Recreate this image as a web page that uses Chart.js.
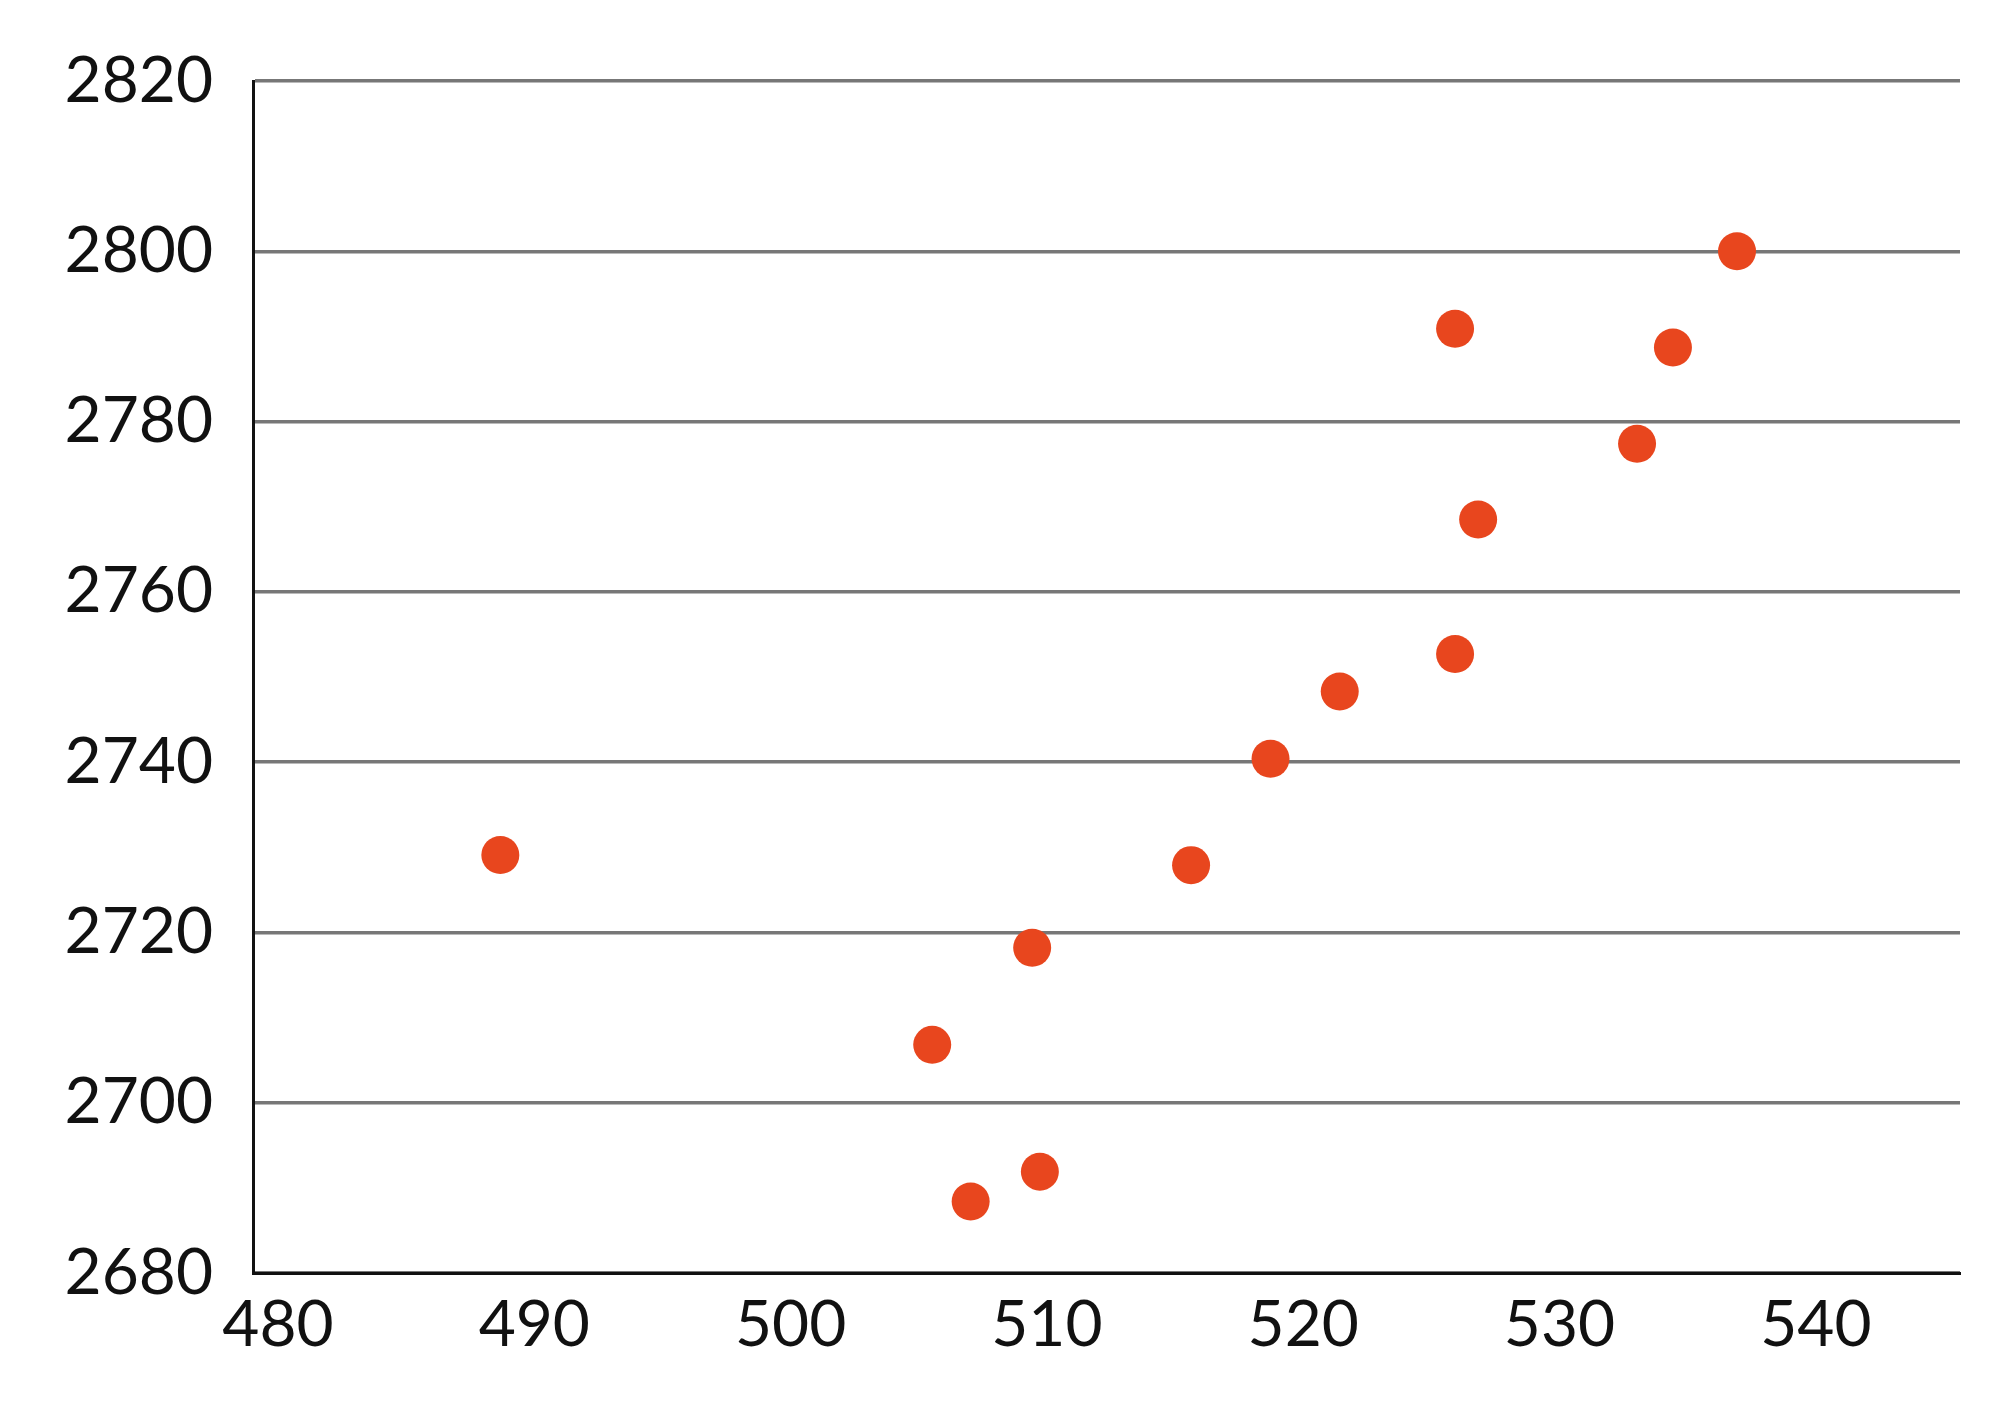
<!DOCTYPE html>
<html><head><meta charset="utf-8">
<script src="https://cdn.jsdelivr.net/npm/chart.js@4/dist/chart.umd.min.js"></script>
<style>html,body{margin:0;padding:0;background:#fff}</style>
</head><body>
<canvas id="c" width="2000" height="1425"></canvas>
<script>
const xValues = [489.65, 506.5, 508.0, 510.4, 510.7, 516.6, 519.7, 522.4, 526.9, 527.8, 526.9, 534.0, 535.4, 537.9];
const yValues = [2729.1, 2706.8, 2688.4, 2718.2, 2691.9, 2727.9, 2740.4, 2748.3, 2752.7, 2768.5, 2790.9, 2777.4, 2788.7, 2800.0];
const xTicks = [480, 490, 500, 510, 520, 530, 540];
const yTicks = [2680, 2700, 2720, 2740, 2760, 2780, 2800, 2820];
const pts = xValues.map((x, i) => ({x, y: yValues[i]}));
const font = {family: 'Lato', size: 64};
new Chart(document.getElementById('c'), {
  type: 'scatter',
  data: {datasets: [{data: pts, backgroundColor: '#e8461e', borderWidth: 0, pointRadius: 19, pointHoverRadius: 19}]},
  options: {
    responsive: false, animation: false,
    layout: {padding: {left: 0, right: 40, top: 81, bottom: 0}},
    plugins: {legend: {display: false}, tooltip: {enabled: false}},
    scales: {
      x: {type: 'linear', min: 480, max: 546.6,
        afterBuildTicks: s => { s.ticks = xTicks.map(v => ({value: v})); },
        afterFit: s => { s.height = 152; },
        grid: {display: false, drawTicks: false},
        border: {display: true, color: '#111', width: 3},
        ticks: {font, color: '#111', padding: 14, labelOffset: 25, callback: v => String(v)}
      },
      y: {type: 'linear', min: 2680, max: 2820,
        afterBuildTicks: s => { s.ticks = yTicks.map(v => ({value: v})); },
        afterFit: s => { s.width = 253; },
        grid: {color: '#777', lineWidth: 3.5, drawTicks: false},
        border: {display: true, color: '#111', width: 3},
        ticks: {font, color: '#111', padding: 40, callback: v => String(v)}
      }
    }
  }
});
</script>
</body></html>
